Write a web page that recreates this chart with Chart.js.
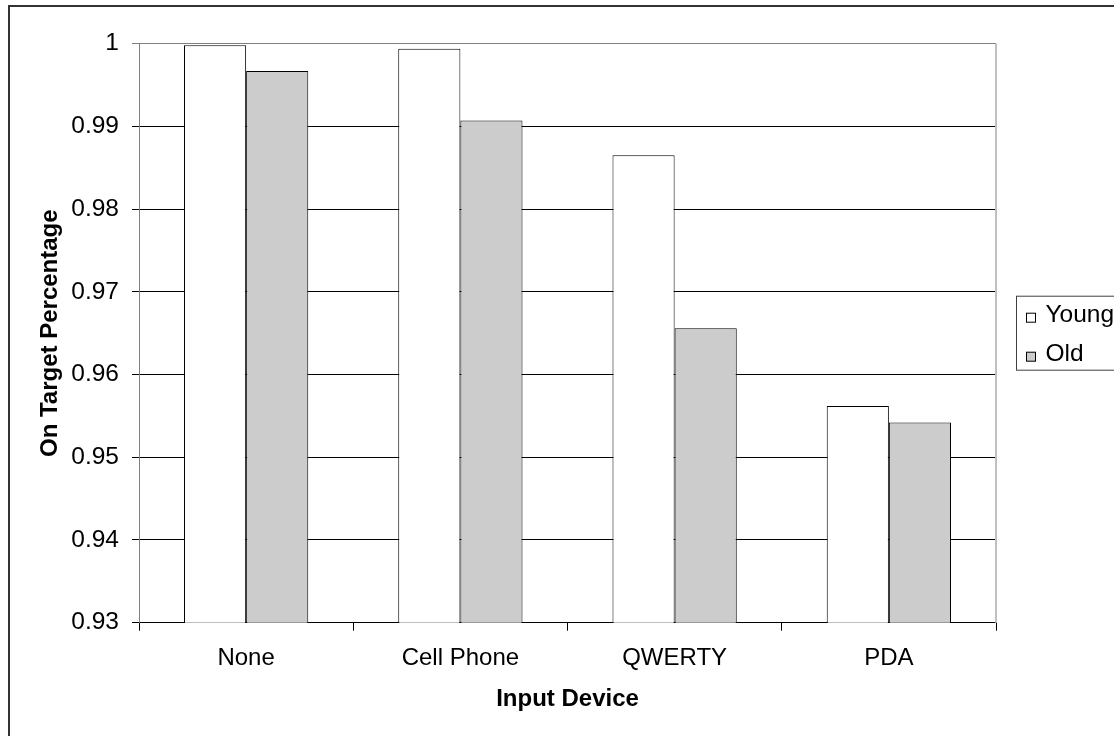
<!DOCTYPE html>
<html>
<head>
<meta charset="utf-8">
<script src="https://cdn.jsdelivr.net/npm/chart.js@4.4.1/dist/chart.umd.min.js"></script>
<style>
  html, body { margin: 0; padding: 0; background: #fff; overflow: hidden; }
  #wrap { position: relative; width: 1114px; height: 736px; }
</style>
</head>
<body>
<div id="wrap"><canvas id="c" width="1114" height="736"></canvas></div>
<script>
const categories = ["None", "Cell Phone", "QWERTY", "PDA"];
const youngValues = [0.9998, 0.9994, 0.9865, 0.9562];
const oldValues = [0.9967, 0.9907, 0.9656, 0.9542];
const seriesNames = ["Young", "Old"];
const yTicks = [0.93, 0.94, 0.95, 0.96, 0.97, 0.98, 0.99, 1];
const yMin = 0.93, yMax = 1, yStep = 0.01;

const FONT = "'Liberation Sans', Arial, sans-serif";

const framePlugin = {
  id: 'frame',
  beforeDraw(chart) {
    const ctx = chart.ctx;
    ctx.save();
    ctx.fillStyle = '#fff';
    ctx.fillRect(0, 0, chart.width, chart.height);
    ctx.restore();
  },
  afterDraw(chart) {
    const ctx = chart.ctx;
    const a = chart.chartArea;
    ctx.save();
    ctx.strokeStyle = '#333';
    ctx.lineWidth = 2;
    ctx.strokeRect(9, 6, chart.width + 50, chart.height + 50);
    ctx.strokeStyle = '#c0c0c0';
    ctx.lineWidth = 2;
    ctx.beginPath();
    ctx.moveTo(a.right, a.top);
    ctx.lineTo(a.right, a.bottom);
    ctx.stroke();
    const lx = a.right + 20.5, ly = a.top + 252.5;
    ctx.strokeStyle = '#404040';
    ctx.lineWidth = 1;
    ctx.strokeRect(lx, ly, 200, 74);
    ctx.font = "24.5px " + FONT;
    ctx.textBaseline = 'alphabetic';
    ctx.textAlign = 'left';
    chart.data.datasets.forEach((ds, i) => {
      const rowBase = ly + 26 + i * 39;
      ctx.fillStyle = ds.backgroundColor;
      ctx.fillRect(lx + 10, rowBase - 9, 9, 9);
      ctx.strokeStyle = '#000';
      ctx.strokeRect(lx + 10, rowBase - 9, 9, 9);
      ctx.fillStyle = '#000';
      ctx.fillText(ds.label, lx + 29, rowBase);
    });
    ctx.restore();
  }
};

new Chart(document.getElementById('c'), {
  type: 'bar',
  data: {
    labels: categories,
    datasets: [
      { label: seriesNames[0], data: youngValues, backgroundColor: '#ffffff', borderColor: '#000', borderWidth: 1 },
      { label: seriesNames[1], data: oldValues, backgroundColor: '#cccccc', borderColor: '#000', borderWidth: 1 }
    ]
  },
  options: {
    responsive: false,
    animation: false,
    layout: { padding: { top: 43.7, right: 118, bottom: 0, left: 0 } },
    plugins: { legend: { display: false }, tooltip: { enabled: false } },
    datasets: { bar: { categoryPercentage: 0.58, barPercentage: 1.0 } },
    scales: {
      x: {
        offset: true,
        grid: { offset: true, drawOnChartArea: false, drawTicks: true, tickLength: 8, color: '#000' },
        border: { color: '#000', width: 1 },
        ticks: { color: '#000', font: { size: 24, family: FONT }, padding: 13, maxRotation: 0 },
        title: { display: true, text: 'Input Device', color: '#000', font: { size: 24, weight: 'bold', family: FONT }, padding: { top: 0, bottom: 22 } },
        afterFit(s) { s.height = 113.3; }
      },
      y: {
        min: yMin, max: yMax,
        afterBuildTicks(s) { s.ticks = yTicks.map(v => ({ value: v })); },
        grid: {
          drawTicks: true, tickLength: 7,
          color: (c) => (c.tick && c.tick.value === yMax ? '#808080' : '#000')
        },
        border: { color: '#808080', width: 1 },
        ticks: { color: '#000', font: { size: 24.5, family: FONT }, padding: 13, stepSize: yStep,
          callback: (v) => String(+v.toFixed(2)) },
        title: { display: true, text: 'On Target Percentage', color: '#000', font: { size: 24, weight: 'bold', family: FONT }, padding: { top: 36, bottom: 0 } },
        afterFit(s) { s.width = 139; }
      }
    }
  },
  plugins: [framePlugin]
});
</script>
</body>
</html>
